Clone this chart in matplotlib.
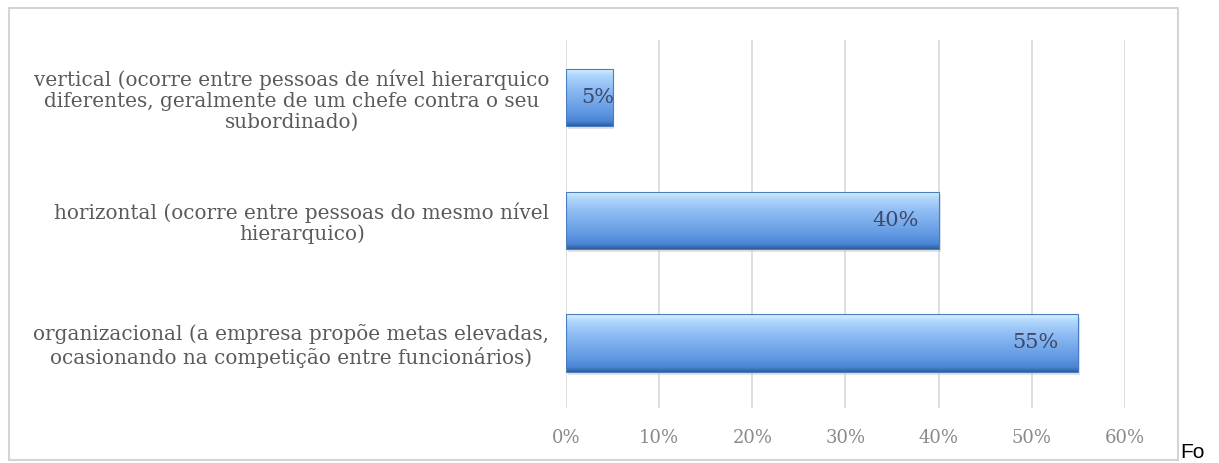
import numpy as np
import matplotlib.pyplot as plt
import matplotlib.patches as patches
from matplotlib.colors import LinearSegmentedColormap

categorias = [
    'organizacional (a empresa propõe metas elevadas,\nocasionando na competição entre funcionários)',
    'horizontal (ocorre entre pessoas do mesmo nível\nhierarquico)',
    'vertical (ocorre entre pessoas de nível hierarquico\ndiferentes, geralmente de um chefe contra o seu\nsubordinado)',
]
valores = [0.55, 0.40, 0.05]
rotulos = ['55%', '40%', '5%']
ticks = [0, 0.1, 0.2, 0.3, 0.4, 0.5, 0.6]
ticks_txt = ['0%', '10%', '20%', '30%', '40%', '50%', '60%']

fig = plt.figure(figsize=(12.19, 4.63), dpi=100)
ax = fig.add_axes([0.4643, 0.1188, 0.4586, 0.7948])

# moldura do grafico
moldura = patches.Rectangle((9 / 1219, 1 - 460 / 463), 1169 / 1219, 452 / 463,
                            transform=fig.transFigure, fill=False,
                            edgecolor='#d4d4d4', linewidth=1.5)
fig.patches.append(moldura)

# degrade azul das barras
cmap = LinearSegmentedColormap.from_list('azul', [
    (0.0, '#dcf3ff'), (0.12, '#b0d7fc'), (0.35, '#8fbcf4'),
    (0.75, '#6199e2'), (0.92, '#4a84d4'), (1.0, '#2f5f9c')])
grad = np.linspace(0, 1, 200).reshape(-1, 1)

altura = 0.465
for i, v in enumerate(valores):
    # sombra
    sombra = patches.Rectangle((0.002, i - altura / 2 - 0.025), v, altura,
                               facecolor='#c8c8c8', edgecolor='none', alpha=0.5, zorder=2)
    ax.add_patch(sombra)
    im = ax.imshow(grad, cmap=cmap, aspect='auto', zorder=3,
                   extent=[0, v, i - altura / 2, i + altura / 2], origin='upper')
    ret = patches.Rectangle((0, i - altura / 2), v, altura, facecolor='none',
                            edgecolor='#4a7cc0', linewidth=0.8, zorder=4)
    ax.add_patch(ret)
    im.set_clip_path(ret)
    pad = -14 if v >= 0.1 else 1
    ax.annotate(rotulos[i], (v, i), xytext=(pad, 0), textcoords='offset points',
                ha='right', va='center', fontsize=15, color='#3b4a6b',
                family='DejaVu Serif', zorder=5)

ax.set_xlim(0, 0.6)
ax.set_ylim(-0.53, 2.47)
ax.set_xticks(ticks)
ax.set_xticklabels(ticks_txt, family='DejaVu Serif', fontsize=13, color='#8a8a8a')
ax.set_yticks(range(len(categorias)))
ax.set_yticklabels(categorias, family='DejaVu Serif', fontsize=14.4, color='#5a5a5a',
                   multialignment='center', linespacing=1.12)
ax.tick_params(length=0, axis='y', pad=12)
ax.tick_params(length=0, axis='x', pad=15)
ax.grid(axis='x', color='#dcdcdc', linewidth=1.3, zorder=0)
ax.set_axisbelow(True)
for s in ax.spines.values():
    s.set_visible(False)

fig.text(1180 / 1219, 1 / 463, 'Fo', fontsize=15, family='Liberation Sans',
         color='black', ha='left', va='bottom')

fig.savefig('out.png', dpi=100)
